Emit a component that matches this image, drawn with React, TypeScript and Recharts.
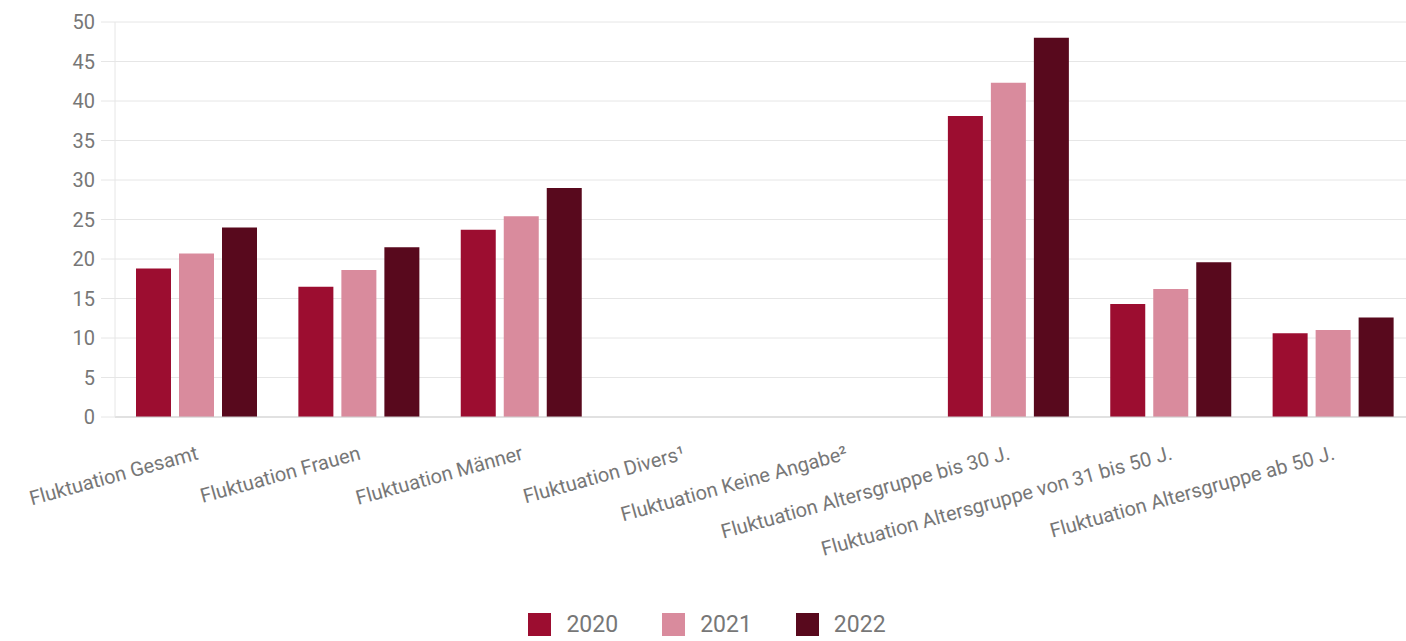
import React from "react";
import { BarChart, Bar, XAxis, YAxis, CartesianGrid, Legend } from "recharts";

const categories = [
  "Fluktuation Gesamt",
  "Fluktuation Frauen",
  "Fluktuation Männer",
  "Fluktuation Divers¹",
  "Fluktuation Keine Angabe²",
  "Fluktuation Altersgruppe bis 30 J.",
  "Fluktuation Altersgruppe von 31 bis 50 J.",
  "Fluktuation Altersgruppe ab 50 J.",
];
const values2020: (number | null)[] = [18.8, 16.5, 23.7, null, null, 38.1, 14.3, 10.6];
const values2021: (number | null)[] = [20.7, 18.6, 25.4, null, null, 42.3, 16.2, 11.0];
const values2022: (number | null)[] = [24.0, 21.5, 29.0, null, null, 48.0, 19.6, 12.6];
const yTicks = [0, 5, 10, 15, 20, 25, 30, 35, 40, 45, 50];
const seriesNames = ["2020", "2021", "2022"];
const colors = ["#9c0d30", "#d98b9d", "#58091d"];

const data = categories.map((c, i) => ({
  name: c,
  "2020": values2020[i],
  "2021": values2021[i],
  "2022": values2022[i],
}));

const FONT = "Roboto, 'Liberation Sans', sans-serif";

const XTick = (props: any) => {
  const { x, y, payload } = props;
  return (
    <g transform={`translate(${x + 3},${y + 42})`}>
      <text
        x={0}
        y={0}
        textAnchor="end"
        transform="rotate(-15.5)"
        fill="#777"
        fontSize={20}
        fontFamily={FONT}
      >
        {payload.value}
      </text>
    </g>
  );
};

const LegendContent = () => (
  <div
    style={{
      height: 34,
      display: "flex",
      justifyContent: "center",
      alignItems: "flex-start",
      paddingTop: 6,
      boxSizing: "border-box",
      fontFamily: FONT,
    }}
  >
    {seriesNames.map((n, i) => (
      <div
        key={n}
        style={{ display: "flex", alignItems: "center", marginRight: i < 2 ? 44 : 0 }}
      >
        <div style={{ width: 23, height: 23, background: colors[i], marginRight: 15 }} />
        <span style={{ fontSize: 23, color: "#777", lineHeight: "23px" }}>{n}</span>
      </div>
    ))}
  </div>
);

export default function App() {
  return (
    <div
      style={{
        position: "absolute",
        left: 0,
        top: 0,
        width: 1406,
        height: 641,
        overflow: "hidden",
        background: "#fff",
      }}
    >
      <BarChart
        width={1414}
        height={641}
        data={data}
        margin={{ top: 22, right: 0, left: 0, bottom: 0 }}
        barSize={35}
        barGap={8}
      >
        <CartesianGrid horizontal vertical={false} stroke="#e6e6e6" />
        <XAxis
          dataKey="name"
          interval={0}
          height={190}
          tickSize={0}
          tickMargin={0}
          tick={<XTick />}
          axisLine={{ stroke: "#cfcfcf" }}
          tickLine={false}
        />
        <YAxis
          width={115}
          domain={[0, 50]}
          ticks={yTicks}
          interval={0}
          tickSize={14}
          tickMargin={6}
          tick={{ fill: "#777", fontSize: 20, fontFamily: FONT }}
          axisLine={{ stroke: "#e6e6e6" }}
          tickLine={{ stroke: "#e6e6e6" }}
        />
        <Legend verticalAlign="bottom" content={<LegendContent />} />
        {seriesNames.map((n, i) => (
          <Bar key={n} dataKey={n} fill={colors[i]} isAnimationActive={false} />
        ))}
      </BarChart>
    </div>
  );
}
